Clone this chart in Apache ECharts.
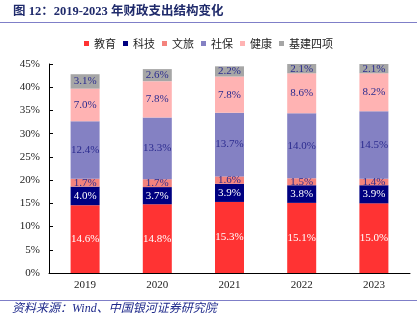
<!DOCTYPE html>
<html><head><meta charset="utf-8">
<script src="https://cdn.jsdelivr.net/npm/echarts@6/dist/echarts.min.js"></script>
<style>html,body{margin:0;padding:0;background:#fff}#c{width:417px;height:323px}</style>
</head><body><div id="c"></div>
<script>
var categories = ['2019','2020','2021','2022','2023'];
var seriesNames = ['教育','科技','文旅','社保','健康','基建四项'];
var edu = [14.6, 14.8, 15.3, 15.1, 15.0];
var tech = [4.0, 3.7, 3.9, 3.8, 3.9];
var tour = [1.7, 1.7, 1.6, 1.5, 1.4];
var social = [12.4, 13.3, 13.7, 14.0, 14.5];
var health = [7.0, 7.8, 7.8, 8.6, 8.2];
var infra = [3.1, 2.6, 2.2, 2.1, 2.1];
var values = [edu, tech, tour, social, health, infra];
var colors = ['#ff3333','#000080','#f4837d','#8481c3','#ffb3b3','#a6a6a6'];
var labelColors = ['#ffffff','#ffffff','#2b2b8f','#2b2b8f','#2b2b8f','#2b2b8f'];
var serif = '"Liberation Serif","DejaVu Serif",serif';
var cjk = '"Noto Sans CJK SC",sans-serif';

var chart = echarts.init(document.getElementById('c'));
chart.setOption({
  animation: false,
  textStyle: {fontFamily: serif},
  legend: {
    top: 33, left: 'center',
    itemWidth: 5, itemHeight: 5, itemGap: 7,
    icon: 'rect',
    textStyle: {fontFamily: cjk, fontSize: 11, color: '#222'},
    data: seriesNames
  },
  grid: {left: 49, right: 7, top: 64, bottom: 50},
  xAxis: {
    type: 'category', data: categories,
    axisLine: {lineStyle: {color: '#000'}},
    axisTick: {inside: true, length: 4, lineStyle: {color: '#000'}},
    axisLabel: {color: '#222', fontSize: 11, fontFamily: serif, margin: 7}
  },
  yAxis: {
    type: 'value', min: 0, max: 45, interval: 5,
    axisLine: {show: true, lineStyle: {color: '#000'}},
    axisTick: {show: true, inside: true, length: 4, lineStyle: {color: '#000'}},
    splitLine: {show: false},
    axisLabel: {formatter: '{value}%', color: '#222', fontSize: 11, fontFamily: serif, margin: 9}
  },
  series: seriesNames.map(function(n, i){
    return {
      name: n, type: 'bar', stack: 'a', barWidth: 29,
      itemStyle: {color: colors[i]},
      label: {show: true, position: 'inside', formatter: function(p){return p.value.toFixed(1)+'%';},
        color: labelColors[i], fontSize: 11, fontFamily: serif},
      data: values[i]
    };
  }),
  graphic: [
    {type: 'text', left: 13, top: 6, style: {text: '图 12：2019-2023 年财政支出结构变化', font: 'bold 12.5px "Liberation Serif", "Noto Sans CJK SC", serif', fill: '#1f2a6b'}},
    {type: 'line', shape: {x1: 0, y1: 22.5, x2: 417, y2: 22.5}, style: {stroke: '#7f7fc8', lineWidth: 1}},
    {type: 'line', shape: {x1: 0, y1: 300.5, x2: 417, y2: 300.5}, style: {stroke: '#7f7fc8', lineWidth: 1}},
    {type: 'text', left: 12, top: 303, style: {text: '资料来源：Wind、中国银河证券研究院', font: 'italic 12px "Liberation Serif", "Noto Sans CJK SC", serif', fill: '#1f2a8b'}}
  ]
});
</script></body></html>
